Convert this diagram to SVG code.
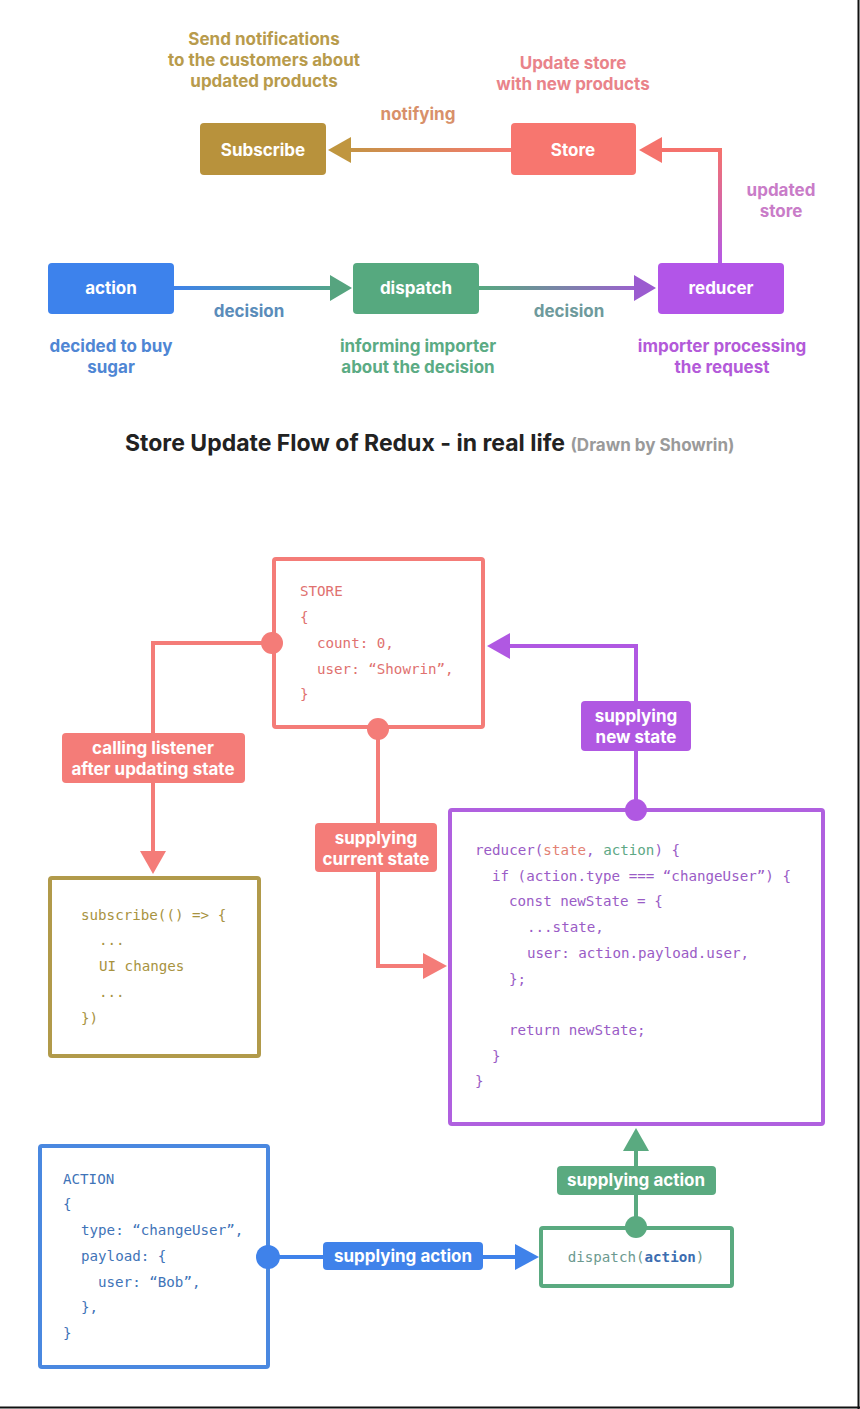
<svg xmlns="http://www.w3.org/2000/svg" width="860" height="1409" viewBox="0 0 860 1409">
<style>
.lbl{font-family:Inter,"Noto Sans","Liberation Sans",sans-serif;font-weight:700;text-anchor:middle}
.top{font-size:17px}
.box{font-size:17px;fill:#fff}
.tag{font-size:17px;fill:#fff}
.code{font-family:"DejaVu Sans Mono","Liberation Mono",monospace;font-size:14.2px}
.frame{fill:#fff;stroke-width:4}
</style>
<defs>
<linearGradient id="gNotify" gradientUnits="userSpaceOnUse" x1="511" y1="0" x2="330" y2="0"><stop offset="0" stop-color="#f47a70"/><stop offset="1" stop-color="#bf9640"/></linearGradient>
<linearGradient id="gUpd" gradientUnits="userSpaceOnUse" x1="0" y1="262" x2="0" y2="150"><stop offset="0" stop-color="#b459e6"/><stop offset="1" stop-color="#f5726c"/></linearGradient>
<linearGradient id="gDec1" gradientUnits="userSpaceOnUse" x1="174" y1="0" x2="352" y2="0"><stop offset="0" stop-color="#3f82ea"/><stop offset="1" stop-color="#56a97f"/></linearGradient>
<linearGradient id="gDec2" gradientUnits="userSpaceOnUse" x1="479" y1="0" x2="656" y2="0"><stop offset="0" stop-color="#56a97f"/><stop offset="1" stop-color="#a458d8"/></linearGradient>
</defs>
<rect width="860" height="1409" fill="#fff"/>

<g id="top-notes" class="lbl top">
<text x="264" y="45" fill="#b89b4c">Send notifications</text>
<text x="264" y="66" fill="#b89b4c">to the customers about</text>
<text x="264" y="87" fill="#b89b4c">updated products</text>
<text x="573" y="69" fill="#e9838a">Update store</text>
<text x="573" y="90" fill="#e9838a">with new products</text>
<text x="418" y="120" fill="#d8906a">notifying</text>
<text x="781" y="196" fill="#c97cc8">updated</text>
<text x="781" y="217" fill="#c97cc8">store</text>
<text x="249" y="317" fill="#5a8cba">decision</text>
<text x="569" y="317" fill="#6e9a9c">decision</text>
<text x="111" y="352" fill="#4f86d4">decided to buy</text>
<text x="111" y="373" fill="#4f86d4">sugar</text>
<text x="418" y="352" fill="#5bab84">informing importer</text>
<text x="418" y="373" fill="#5bab84">about the decision</text>
<text x="722" y="352" fill="#b35ad9">importer processing</text>
<text x="722" y="373" fill="#b35ad9">the request</text>
</g>

<g id="top-connectors">
<path d="M511 150 H348" stroke="url(#gNotify)" stroke-width="4" fill="none"/>
<polygon points="328,150 351,137 351,163" fill="#c0963f"/>
<path d="M720 263 V150 H658" stroke="url(#gUpd)" stroke-width="4" fill="none"/>
<polygon points="639,150 662,137 662,163" fill="#f5736c"/>
<path d="M174 288 H334" stroke="url(#gDec1)" stroke-width="4" fill="none"/>
<polygon points="352,288 330,275 330,301" fill="#56a47f"/>
<path d="M479 288 H638" stroke="url(#gDec2)" stroke-width="4" fill="none"/>
<polygon points="656,288 634,275 634,301" fill="#9b5bd0"/>
</g>

<g id="node-subscribe"><rect x="200" y="123" width="126" height="52" rx="4" fill="#b8923c"/><text class="lbl box" x="263" y="156">Subscribe</text></g>
<g id="node-store"><rect x="511" y="123" width="125" height="52" rx="4" fill="#f7766f"/><text class="lbl box" x="573" y="156">Store</text></g>
<g id="node-action"><rect x="48" y="263" width="126" height="51" rx="4" fill="#3d82ec"/><text class="lbl box" x="111" y="294">action</text></g>
<g id="node-dispatch"><rect x="353" y="263" width="126" height="51" rx="4" fill="#56a97f"/><text class="lbl box" x="416" y="294">dispatch</text></g>
<g id="node-reducer"><rect x="658" y="263" width="126" height="51" rx="4" fill="#b255e8"/><text class="lbl box" x="721" y="294">reducer</text></g>

<g id="title">
<text x="125" y="451" font-family="Inter,'Liberation Sans',sans-serif" font-weight="700" font-size="23" fill="#222">Store Update Flow of Redux - in real life <tspan font-size="17" fill="#9a9a9a">(Drawn by Showrin)</tspan></text>
</g>

<g id="node-store-code">
<rect class="frame" x="274" y="559" width="209" height="168" rx="2" stroke="#f47c78"/>
<g class="code" fill="#e0716f">
<text x="300" y="596">STORE</text>
<text x="300" y="622">{</text>
<text x="317" y="648">count: 0,</text>
<text x="317" y="674">user: “Showrin”,</text>
<text x="300" y="699">}</text>
</g>
</g>

<g id="node-subscribe-code">
<rect class="frame" x="50" y="878" width="209" height="178" rx="2" stroke="#b19a4a"/>
<g class="code" fill="#a8933f">
<text x="81" y="920">subscribe(() =&gt; {</text>
<text x="99" y="945">...</text>
<text x="99" y="971">UI changes</text>
<text x="99" y="997">...</text>
<text x="81" y="1023">})</text>
</g>
</g>

<g id="node-reducer-code">
<rect class="frame" x="450" y="810" width="373" height="314" rx="2" stroke="#b060df"/>
<g class="code" fill="#9a5cc6">
<text x="475" y="855">reducer(<tspan fill="#e38274">state</tspan>, <tspan fill="#5ea885">action</tspan>) {</text>
<text x="492" y="881">if (action.type === “changeUser”) {</text>
<text x="509" y="906">const newState = {</text>
<text x="527" y="932">...state,</text>
<text x="527" y="958">user: action.payload.user,</text>
<text x="509" y="984">};</text>
<text x="509" y="1035">return newState;</text>
<text x="492" y="1061">}</text>
<text x="475" y="1086">}</text>
</g>
</g>

<g id="node-action-code">
<rect class="frame" x="40" y="1146" width="228" height="221" rx="2" stroke="#4a88e0"/>
<g class="code" fill="#3f74b8">
<text x="63" y="1184">ACTION</text>
<text x="63" y="1209">{</text>
<text x="81" y="1235">type: “changeUser”,</text>
<text x="81" y="1261">payload: {</text>
<text x="98" y="1287">user: “Bob”,</text>
<text x="81" y="1312">},</text>
<text x="63" y="1338">}</text>
</g>
</g>

<g id="node-dispatch-code">
<rect class="frame" x="541" y="1228" width="191" height="58" rx="2" stroke="#5aaa80"/>
<text class="code" x="636" y="1262" text-anchor="middle" fill="#6c9a90">dispatch(<tspan fill="#3c6db0" font-weight="700">action</tspan>)</text>
</g>

<g id="connectors">
<path d="M272 643 H153 V856" stroke="#f47c78" stroke-width="4" fill="none"/>
<circle cx="272" cy="643" r="11" fill="#f47c78"/>
<polygon points="153,874 140,851 166,851" fill="#f47c78"/>
<path d="M378 729 V966 H428" stroke="#f47c78" stroke-width="4" fill="none"/>
<circle cx="378" cy="729" r="11" fill="#f47c78"/>
<polygon points="447,966 423,953 423,979" fill="#f47c78"/>
<path d="M636 810 V646 H506" stroke="#b058e2" stroke-width="4" fill="none"/>
<circle cx="636" cy="810" r="11" fill="#b058e2"/>
<polygon points="487,646 510,633 510,659" fill="#b058e2"/>
<path d="M268 1257 H520" stroke="#3f82ea" stroke-width="4" fill="none"/>
<circle cx="268" cy="1257" r="12" fill="#3f82ea"/>
<polygon points="539,1257 515,1244 515,1270" fill="#3f82ea"/>
<path d="M636 1227 V1146" stroke="#5aaa80" stroke-width="4" fill="none"/>
<circle cx="636" cy="1227" r="11" fill="#5aaa80"/>
<polygon points="636,1128 623,1151 649,1151" fill="#5aaa80"/>
</g>

<g id="edge-labels" class="lbl tag">
<rect x="62" y="733" width="183" height="50" rx="4" fill="#f47c78"/>
<text x="153" y="754">calling listener</text>
<text x="153" y="775">after updating state</text>
<rect x="315" y="823" width="122" height="49" rx="4" fill="#f47c78"/>
<text x="376" y="844">supplying</text>
<text x="376" y="865">current state</text>
<rect x="581" y="701" width="110" height="50" rx="4" fill="#b058e2"/>
<text x="636" y="722">supplying</text>
<text x="636" y="743">new state</text>
<rect x="323" y="1242" width="160" height="28" rx="4" fill="#3f82ea"/>
<text x="403" y="1262">supplying action</text>
<rect x="557" y="1166" width="159" height="29" rx="4" fill="#5aaa80"/>
<text x="636" y="1186">supplying action</text>
</g>

<g id="frame-edges">
<line x1="858.5" y1="0" x2="858.5" y2="1409" stroke="#111" stroke-width="2"/>
<line x1="0" y1="1407.5" x2="860" y2="1407.5" stroke="#111" stroke-width="2"/>
</g>
</svg>
